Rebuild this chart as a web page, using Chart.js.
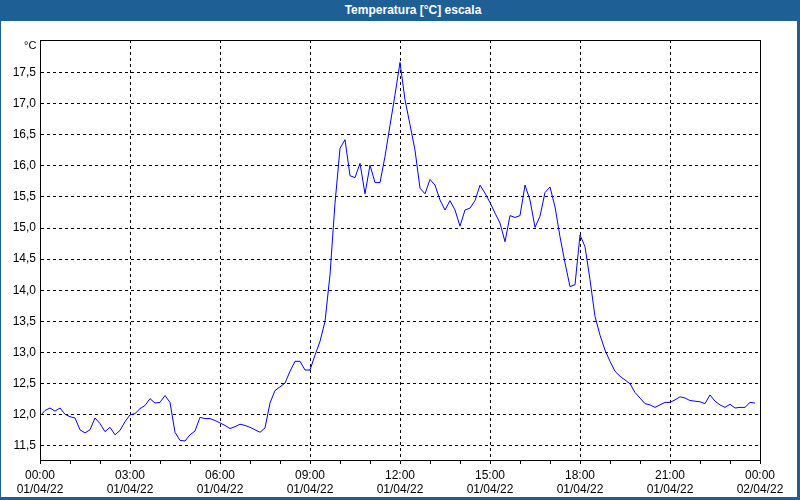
<!DOCTYPE html>
<html>
<head>
<meta charset="utf-8">
<script src="https://cdn.jsdelivr.net/npm/chart.js@4.4.1/dist/chart.umd.min.js"></script>
<style>
    html, body { margin: 0; padding: 0; background: #ffffff; }
    #wrap { position: relative; width: 800px; height: 500px; overflow: hidden; }
    #frame {
        position: absolute; left: 0; top: 0; width: 800px; height: 500px;
        box-sizing: border-box;
        border-left: 1px solid #1e5f95; border-right: 3px solid #1e5f95; border-bottom: 3px solid #1e5f95;
        pointer-events: none;
    }
    #titlebar {
        position: absolute; left: 0; top: 0; width: 800px; height: 21px;
        background: #1e5f95; color: #ffffff;
        font: bold 12px "Liberation Sans", Arial, sans-serif;
        line-height: 21px; text-align: center; text-indent: 26px;
    }
    #unit {
        position: absolute; left: 24px; top: 39px;
        font: 11px "Liberation Sans", Arial, sans-serif; color: #000;
    }
    canvas { position: absolute; left: 0; top: 0; }
</style>
</head>
<body>
<div id="wrap">
    <canvas id="tempChart" width="800" height="500"></canvas>
    <div id="titlebar">Temperatura [°C] escala</div>
    <div id="unit">°C</div>
    <div id="frame"></div>
</div>
<script>
// mediciones cada 10 minutos desde las 00:00 del 01/04/22
const intervalMinutes = 10;
const temperatures = [
    11.98, 12.07, 12.11, 12.06, 12.11, 12.01, 11.97, 11.95, 11.76, 11.71,
    11.76, 11.95, 11.86, 11.73, 11.80, 11.68, 11.75, 11.89, 12.00, 12.02,
    12.10, 12.15, 12.26, 12.19, 12.20, 12.31, 12.20, 11.72, 11.59, 11.58,
    11.68, 11.74, 11.96, 11.94, 11.94, 11.91, 11.87, 11.83, 11.78, 11.81,
    11.85, 11.83, 11.80, 11.76, 11.72, 11.79, 12.19, 12.39, 12.45, 12.51,
    12.70, 12.86, 12.86, 12.72, 12.72, 12.96, 13.18, 13.50, 14.25, 15.40,
    16.28, 16.42, 15.84, 15.81, 16.04, 15.55, 16.01, 15.73, 15.73, 16.15,
    16.65, 17.14, 17.66, 17.06, 16.66, 16.25, 15.64, 15.55, 15.78, 15.69,
    15.45, 15.29, 15.44, 15.29, 15.03, 15.29, 15.32, 15.44, 15.69, 15.56,
    15.41, 15.24, 15.08, 14.78, 15.20, 15.17, 15.20, 15.69, 15.45, 15.01,
    15.19, 15.57, 15.66, 15.34, 14.86, 14.44, 14.06, 14.09, 14.89, 14.70,
    14.17, 13.58, 13.28, 13.04, 12.86, 12.70, 12.62, 12.56, 12.50, 12.36,
    12.27, 12.18, 12.16, 12.12, 12.16, 12.20, 12.20, 12.24, 12.29, 12.27,
    12.23, 12.22, 12.21, 12.18, 12.32, 12.22, 12.16, 12.12, 12.17, 12.11,
    12.12, 12.12, 12.20, 12.19
];

// etiquetas del eje X (cada 3 horas)
const hourLabels = ['00:00', '03:00', '06:00', '09:00', '12:00', '15:00', '18:00', '21:00', '00:00'];
const dateLabels = ['01/04/22', '01/04/22', '01/04/22', '01/04/22', '01/04/22', '01/04/22', '01/04/22', '01/04/22', '02/04/22'];

const yMin = 11.275;
const yMax = 18.02;
const yStep = 0.5;

const points = temperatures.map((v, i) => ({ x: i * intervalMinutes, y: v }));

// marco superior y derecho del area de trazado
const plotFrame = {
    id: 'plotFrame',
    afterDraw(chart) {
        const a = chart.chartArea;
        const c = chart.ctx;
        c.save();
        c.strokeStyle = '#000';
        c.lineWidth = 1;
        c.beginPath();
        c.moveTo(Math.round(a.left) + 0.5, Math.round(a.top) + 0.5);
        c.lineTo(Math.round(a.right) + 0.5, Math.round(a.top) + 0.5);
        c.lineTo(Math.round(a.right) + 0.5, Math.round(a.bottom) + 0.5);
        c.stroke();
        c.restore();
    }
};

const ctx = document.getElementById('tempChart').getContext('2d');
const tempChart = new Chart(ctx, {
    type: 'line',
    data: {
        datasets: [{
            data: points,
            borderColor: '#0000ff',
            borderWidth: 1,
            pointRadius: 0,
            tension: 0,
            fill: false
        }]
    },
    options: {
        responsive: false,
        animation: false,
        layout: { padding: { top: 40, right: 40, left: 0, bottom: 0 } },
        plugins: {
            legend: { display: false },
            tooltip: { enabled: false }
        },
        scales: {
            x: {
                type: 'linear',
                min: 0,
                max: 1440,
                afterFit: function(scale) { scale.height = 40; },
                ticks: {
                    stepSize: 60,
                    autoSkip: false,
                    maxRotation: 0,
                    padding: 4,
                    color: '#000',
                    font: { family: 'Liberation Sans', size: 12, lineHeight: 1.2 },
                    callback: function(value) {
                        if (value % 180 !== 0) return '';
                        const k = value / 180;
                        return [hourLabels[k], dateLabels[k]];
                    }
                },
                grid: {
                    color: (c) => (c.tick && c.tick.value % 180 === 0 ? '#000' : 'rgba(0,0,0,0)'),
                    tickColor: '#000',
                    tickLength: 4,
                    tickBorderDash: [],
                    lineWidth: 1
                },
                border: { display: true, color: '#000', width: 1, dash: [3, 3] }
            },
            y: {
                min: yMin,
                max: yMax,
                afterFit: function(scale) { scale.width = 40; },
                // sin marca en el borde superior (18,0 queda pegado al marco)
                afterBuildTicks: function(scale) {
                    scale.ticks = scale.ticks.filter(t => t.value < yMax - 0.1);
                },
                ticks: {
                    stepSize: yStep,
                    includeBounds: false,
                    padding: 4,
                    color: '#000',
                    font: { family: 'Liberation Sans', size: 12 },
                    callback: (v) => v.toFixed(1).replace('.', ',')
                },
                grid: {
                    color: '#000',
                    drawTicks: false,
                    lineWidth: 1
                },
                border: { display: true, color: '#000', width: 1, dash: [3, 3] }
            }
        }
    },
    plugins: [plotFrame]
});
</script>
</body>
</html>
